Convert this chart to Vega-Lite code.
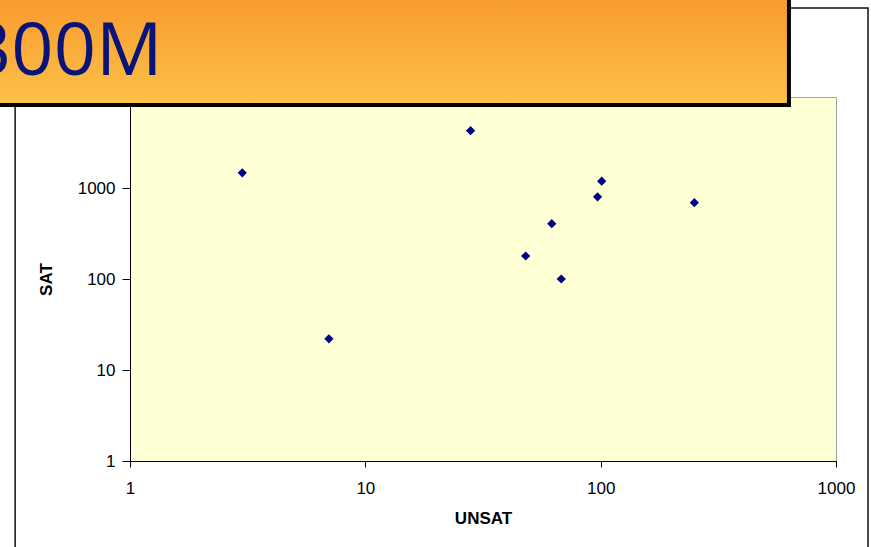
{
  "$schema": "https://vega.github.io/schema/vega-lite/v6.json",
  "width": 706,
  "height": 364,
  "autosize": {"type": "none"},
  "padding": {"left": 130, "top": 97, "right": 35, "bottom": 86},
  "background": "white",
  "config": {
    "view": {"fill": "#FFFFD5", "stroke": "#A0A0A0", "strokeWidth": 1},
    "axis": {
      "grid": false,
      "domainColor": "#000000",
      "tickColor": "#000000",
      "labelColor": "#000000",
      "titleColor": "#000000",
      "labelFont": "Liberation Sans",
      "labelFontSize": 17,
      "titleFont": "Liberation Sans",
      "titleFontSize": 17,
      "titleFontWeight": "bold",
      "labelFlush": false,
      "labelOverlap": false,
      "labelBound": false
    }
  },
  "layer": [
    {
      "data": {"values": [{"part": "chart area"}]},
      "mark": {"type": "rect", "fill": "white", "fillOpacity": 0, "stroke": "#111111", "strokeWidth": 1.5, "clip": false},
      "encoding": {
        "x": {"datum": 0.325, "type": "quantitative", "title": "UNSAT", "scale": {"type": "log", "domain": [1, 1000]},
          "axis": {"title": "UNSAT", "values": [1, 10, 100, 1000], "format": "d", "tickSize": 6, "labelPadding": 13, "titlePadding": 14}},
        "x2": {"datum": 1368},
        "y": {"datum": 95100, "type": "quantitative", "title": "SAT", "scale": {"type": "log", "domain": [1, 10000]},
          "axis": {"title": "SAT", "values": [1, 10, 100, 1000], "format": "d", "tickSize": 8, "labelPadding": 7, "titlePadding": 22}},
        "y2": {"datum": 0.082}
      }
    },
    {
      "data": {
        "values": [
          {"UNSAT": 3, "SAT": 1470},
          {"UNSAT": 7, "SAT": 22},
          {"UNSAT": 28, "SAT": 4270},
          {"UNSAT": 48, "SAT": 179},
          {"UNSAT": 62, "SAT": 405},
          {"UNSAT": 68, "SAT": 100},
          {"UNSAT": 97, "SAT": 800},
          {"UNSAT": 101, "SAT": 1190},
          {"UNSAT": 250, "SAT": 690}
        ]
      },
      "mark": {"type": "point", "shape": "diamond", "filled": true, "size": 85, "color": "#000080", "opacity": 1},
      "encoding": {
        "x": {
          "field": "UNSAT",
          "type": "quantitative",
          "title": "UNSAT",
          "scale": {"type": "log", "domain": [1, 1000]},
          "axis": {"title": "UNSAT", "values": [1, 10, 100, 1000], "format": "d", "tickSize": 6, "labelPadding": 13, "titlePadding": 14}
        },
        "y": {
          "field": "SAT",
          "type": "quantitative",
          "title": "SAT",
          "scale": {"type": "log", "domain": [1, 10000]},
          "axis": {"title": "SAT", "values": [1, 10, 100, 1000], "format": "d", "tickSize": 8, "labelPadding": 7, "titlePadding": 22}
        }
      }
    },
    {
      "data": {"values": [{"part": "title box"}]},
      "mark": {
        "type": "rect",
        "clip": false,
        "stroke": "#000000",
        "strokeWidth": 4,
        "fill": {
          "gradient": "linear",
          "x1": 0, "y1": 0, "x2": 0, "y2": 1,
          "stops": [
            {"offset": 0, "color": "#F8992F"},
            {"offset": 1, "color": "#FCC247"}
          ]
        }
      },
      "encoding": {
        "x": {"datum": 0.27, "type": "quantitative", "title": "UNSAT", "scale": {"type": "log", "domain": [1, 1000]},
          "axis": {"title": "UNSAT", "values": [1, 10, 100, 1000], "format": "d", "tickSize": 6, "labelPadding": 13, "titlePadding": 14}},
        "x2": {"datum": 631},
        "y": {"datum": 130000, "type": "quantitative", "title": "SAT", "scale": {"type": "log", "domain": [1, 10000]},
          "axis": {"title": "SAT", "values": [1, 10, 100, 1000], "format": "d", "tickSize": 8, "labelPadding": 7, "titlePadding": 22}},
        "y2": {"datum": 8166}
      }
    },
    {
      "data": {"values": [{"label": "300M"}]},
      "mark": {
        "type": "text",
        "clip": false,
        "align": "left",
        "baseline": "alphabetic",
        "font": "Open Sans",
        "fontSize": 74,
        "fontWeight": "normal",
        "color": "#0A1478"
      },
      "encoding": {
        "text": {"field": "label", "type": "nominal"},
        "x": {"datum": 0.207, "type": "quantitative", "title": "UNSAT", "scale": {"type": "log", "domain": [1, 1000]},
          "axis": {"title": "UNSAT", "values": [1, 10, 100, 1000], "format": "d", "tickSize": 6, "labelPadding": 13, "titlePadding": 14}},
        "y": {"datum": 17450, "type": "quantitative", "title": "SAT", "scale": {"type": "log", "domain": [1, 10000]},
          "axis": {"title": "SAT", "values": [1, 10, 100, 1000], "format": "d", "tickSize": 8, "labelPadding": 7, "titlePadding": 22}}
      }
    }
  ]
}
